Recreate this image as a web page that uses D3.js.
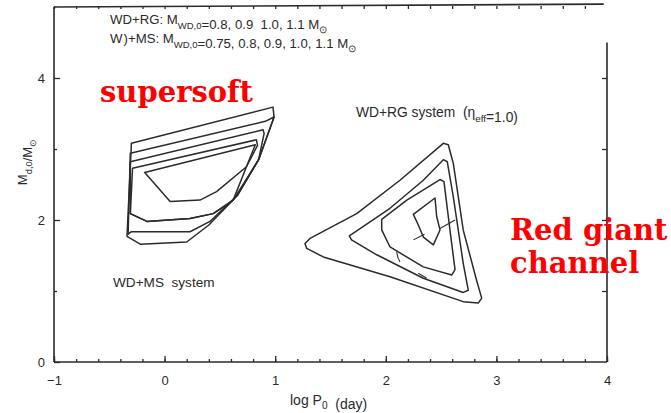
<!DOCTYPE html>
<html>
<head>
<meta charset="utf-8">
<script src="https://cdn.jsdelivr.net/npm/d3@7"></script>
<style>
  html, body { margin: 0; padding: 0; background: #fff; }
  svg { display: block; }
  text { font-family: "Liberation Sans", Arial, sans-serif; fill: #2a2a2a; white-space: pre; }
  .red { font-family: "DejaVu Serif", serif; font-weight: bold; fill: #ff0000; }
</style>
</head>
<body>
<svg id="chart" width="671" height="413"></svg>
<script>
// Axis ranges and tick values
const xDomain = [-1, 4];
const yDomain = [0, 5];
const xMajorTicks = [-1, 0, 1, 2, 3, 4];
const xTickLabels = ["\u22121", "0", "1", "2", "3", "4"];
const xMinorTicks = d3.range(-1, 4.001, 0.2).map(v => +v.toFixed(1));
const yMajorTicks = [0, 2, 4];
const yTickLabels = ["0", "2", "4"];
const yMinorTicks = [1, 3];

// WD+MS system: contours of M_d,0 vs log P_0 (outermost first)
const msContour1 = [[-0.30,3.08],[0.98,3.59],[0.99,3.45],[0.85,2.85],[0.66,2.35],[0.40,1.93],[0.20,1.69],[-0.22,1.66],[-0.34,1.77]];
const msContour2 = [[-0.31,2.94],[0.91,3.39],[0.99,3.45],[0.85,2.85],[0.66,2.35],[0.41,1.98],[0.23,1.835],[-0.30,1.835],[-0.33,1.80]];
const msContour3 = [[-0.31,2.82],[0.89,3.27],[0.90,3.22],[0.85,2.85],[0.62,2.28],[0.44,2.09],[0.23,2.02],[-0.16,1.98],[-0.31,2.09]];
const msContour4 = [[-0.29,2.73],[0.83,3.13],[0.84,3.05],[0.74,2.75],[0.62,2.28],[0.44,2.09],[0.23,2.02],[-0.16,1.98],[-0.31,2.09]];
const msContour5 = [[-0.18,2.67],[0.82,3.06],[0.74,2.75],[0.47,2.40],[0.32,2.28],[0.05,2.26]];

// WD+RG system contours
const rgContour1 = [[1.269,1.67],[1.315,1.74],[1.737,2.09],[2.128,2.56],[2.52,3.08],[2.565,3.06],[2.61,2.80],[2.70,1.86],[2.82,1.155],[2.867,0.90],[2.836,0.83],[2.70,0.85],[2.038,1.20],[1.435,1.48],[1.285,1.60]];
const rgContour2 = [[1.67,1.775],[2.038,2.165],[2.339,2.56],[2.52,2.85],[2.556,2.82],[2.61,2.33],[2.70,1.39],[2.746,1.01],[2.70,0.98],[2.339,1.18],[1.918,1.51],[1.69,1.72]];
const rgContour3 = [[1.963,2.01],[2.19,2.28],[2.49,2.57],[2.526,2.54],[2.58,1.86],[2.626,1.30],[2.596,1.225],[2.339,1.34],[2.038,1.62],[1.963,1.86]];
const rgContour4 = [[2.249,2.08],[2.445,2.31],[2.46,2.05],[2.49,1.86],[2.43,1.65],[2.34,1.76],[2.294,1.93]];
const rgDashed = [
  [[2.249,1.72],[2.35,1.80]],
  [[2.49,1.88],[2.626,2.0]],
  [[2.098,1.55],[2.11,1.47],[2.128,1.41]],
  [[2.294,1.25],[2.37,1.18]]
];

const svg = d3.select("#chart");
const x = d3.scaleLinear().domain(xDomain).range([54, 607]);
const y = d3.scaleLinear().domain(yDomain).range([362, 7]);

const stroke = "#2b2b2b";
const closed = d3.line().x(d => x(d[0])).y(d => y(d[1])).curve(d3.curveLinearClosed);
const openLine = d3.line().x(d => x(d[0])).y(d => y(d[1]));

// Frame
const frame = svg.append("g").attr("stroke", stroke).attr("stroke-width", 1.6).attr("fill", "none");
frame.append("line").attr("x1", x(-1)).attr("x2", x(-1)).attr("y1", y(5)).attr("y2", y(0));
frame.append("line").attr("x1", x(-1)).attr("x2", x(4)).attr("y1", y(0)).attr("y2", y(0));
frame.append("line").attr("x1", x(4)).attr("x2", x(4)).attr("y1", y(4.5)).attr("y2", y(0));
frame.append("line").attr("x1", x(-1)).attr("x2", x(3.97)).attr("y1", y(5)).attr("y2", y(5.04));

function styleAxis(g) {
  g.select(".domain").remove();
  g.selectAll(".tick line").attr("stroke", stroke).attr("stroke-width", 1.3);
}

// Bottom axis: major ticks with labels, minor ticks
svg.append("g").attr("transform", `translate(0,${y(0)})`)
  .call(d3.axisBottom(x).tickValues(xMinorTicks).tickSize(-3).tickFormat(""))
  .call(styleAxis);
svg.append("g").attr("transform", `translate(0,${y(0)})`)
  .call(d3.axisBottom(x).tickValues(xMajorTicks).tickSize(-6).tickPadding(14)
    .tickFormat((d, i) => xTickLabels[i]))
  .call(styleAxis)
  .call(g => g.selectAll("text").attr("font-size", 13).attr("fill", "#2a2a2a")
    .attr("font-family", "Liberation Sans, Arial, sans-serif"));

// Top axis: ticks only
svg.append("g").attr("transform", `translate(0,${y(5) - 1})`)
  .call(d3.axisTop(x).tickValues(xMinorTicks.filter(v => v < 3.98)).tickSize(-3).tickFormat(""))
  .call(styleAxis);

// Left axis
svg.append("g").attr("transform", `translate(${x(-1)},0)`)
  .call(d3.axisLeft(y).tickValues(yMinorTicks).tickSize(-3).tickFormat(""))
  .call(styleAxis);
svg.append("g").attr("transform", `translate(${x(-1)},0)`)
  .call(d3.axisLeft(y).tickValues(yMajorTicks).tickSize(-6).tickPadding(9)
    .tickFormat((d, i) => yTickLabels[i]))
  .call(styleAxis)
  .call(g => g.selectAll("text").attr("font-size", 13).attr("fill", "#2a2a2a")
    .attr("font-family", "Liberation Sans, Arial, sans-serif"));

// Right axis: ticks only
svg.append("g").attr("transform", `translate(${x(4)},0)`)
  .call(d3.axisRight(y).tickValues([1, 2, 3, 4]).tickSize(-5).tickFormat(""))
  .call(styleAxis);

// Contours
const contours = svg.append("g").attr("fill", "none").attr("stroke", stroke)
  .attr("stroke-width", 1.5).attr("stroke-linejoin", "round");
[msContour1, msContour2, msContour3, msContour4, msContour5,
 rgContour1, rgContour2, rgContour3, rgContour4].forEach(c => {
  contours.append("path").attr("d", closed(c));
});
rgDashed.forEach(seg => {
  contours.append("path").attr("d", openLine(seg)).attr("stroke-width", 1.1);
});

// Text with subscripts
function subText(parent, xPos, yPos, parts, size, drop) {
  const d = drop == null ? 0.35 : drop;
  const t = parent.append("text").attr("x", xPos).attr("y", yPos).attr("font-size", size);
  parts.forEach(p => {
    if (p.sub) {
      t.append("tspan").attr("dy", size * d).attr("font-size", size * 0.72).text(p.sub);
      t.append("tspan").attr("dy", -size * d).text("");
    } else {
      t.append("tspan").text(p.t);
    }
  });
  return t;
}

subText(svg, 110, 24, [{t: "WD+RG: M"}, {sub: "WD,0"}, {t: "=0.8, 0.9  1.0, 1.1 M"}, {sub: "\u2299"}], 13.2);
subText(svg, 110, 43, [{t: "W\u200A)+MS: M"}, {sub: "WD,0"}, {t: "=0.75, 0.8, 0.9, 1.0, 1.1 M"}, {sub: "\u2299"}], 13.2);

subText(svg, 356, 117, [{t: "WD+RG system  (\u03b7"}, {sub: "eff"}, {t: "=1.0)"}], 13.8);
svg.append("text").attr("x", 113).attr("y", 287).attr("font-size", 13.6).text("WD+MS  system");

// Axis titles
subText(svg, 290, 405, [{t: "log P"}, {sub: "0"}, {t: "  (day)"}], 14, 0.25);
subText(svg, 0, 0, [{t: "M"}, {sub: "d,0"}, {t: "/M"}, {sub: "\u2299"}], 13)
  .attr("text-anchor", "middle")
  .attr("transform", "translate(27,162) rotate(-90)");

// Annotations
svg.append("text").attr("class", "red").attr("x", 100).attr("y", 102).attr("font-size", 29).text("supersoft");
svg.append("text").attr("class", "red").attr("x", 510).attr("y", 240).attr("font-size", 29).text("Red giant");
svg.append("text").attr("class", "red").attr("x", 510).attr("y", 273).attr("font-size", 29).text("channel");
</script>
</body>
</html>
